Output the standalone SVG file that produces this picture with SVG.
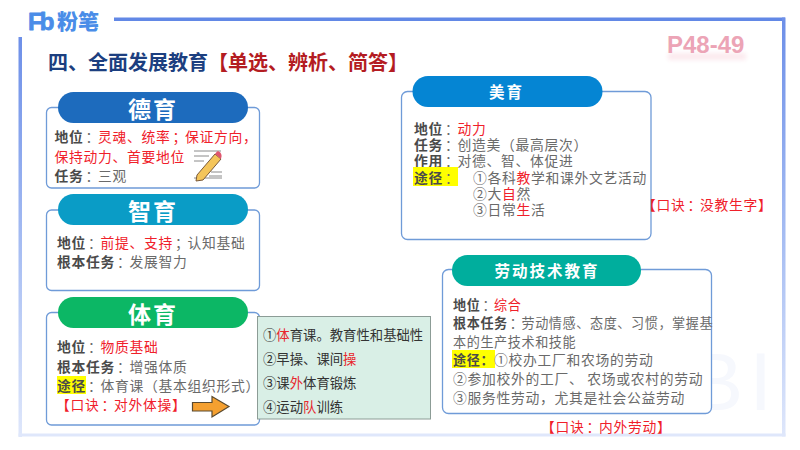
<svg xmlns="http://www.w3.org/2000/svg" width="800" height="450" viewBox="0 0 800 450">
<defs>
<linearGradient id="fv" x1="0" y1="0" x2="0" y2="1"><stop offset="0" stop-color="#6d8fe8"/><stop offset="0.55" stop-color="#a9bff3"/><stop offset="1" stop-color="#dfe7fb"/></linearGradient>
<filter id="soft" x="-20%" y="-50%" width="140%" height="200%"><feGaussianBlur stdDeviation="2"/></filter>
</defs>
<style>
text{font-family:"Noto Sans CJK SC","Noto Sans",sans-serif;font-size:13.8px;letter-spacing:.7px;fill:#6a6a6a}
.l{font-weight:700;fill:#4a4a4a}
.r{fill:#f0202a}
.box{fill:#fff;stroke:#6f9bd8;stroke-width:1.3}
.h{font-size:23px;font-weight:700;fill:#fff;text-anchor:middle;letter-spacing:2px}
.hs{font-size:15.5px;font-weight:700;fill:#fff;text-anchor:middle;letter-spacing:2px}
.hl{fill:#ffff00}
.g{font-size:13.35px;letter-spacing:0;fill:#333}
.gr{fill:#e8262c}
.n{font-size:13.1px;letter-spacing:.6px}
</style>
<rect width="800" height="450" fill="#fff"/>
<g id="frame">
<text x="778" y="410" text-anchor="end" style="font-family:'Liberation Sans',sans-serif;font-size:82px;letter-spacing:6px;font-weight:400;fill:#f6f8fd">FENBI</text>
<rect x="114" y="17.5" width="671" height="3.5" fill="#6288e6"/>
<rect x="18.5" y="37" width="3.500" height="400" fill="url(#fv)"/>
<rect x="782" y="17.500" width="3.500" height="419" fill="url(#fv)"/>
<rect x="18.500" y="433.500" width="767" height="3" fill="#dfe7fb"/>
</g>
<g id="logo">
<text x="28" y="30" style="font-family:'Liberation Sans',sans-serif;font-size:24px;letter-spacing:-3px;font-weight:700;fill:#4a8de8;stroke:#4a8de8;stroke-width:.8;stroke-linejoin:round">Fb</text>
<text x="57" y="29" style="font-size:21px;font-weight:900;letter-spacing:0;fill:#4a8de8">粉笔</text>
</g>
<g id="title">
<text x="48" y="69.500" style="font-size:20px;letter-spacing:0;font-weight:700;fill:#1c3f80">四、全面发展教育<tspan style="fill:#b41c22">【单选、辨析、简答】</tspan></text>
</g>
<g id="page">
<rect x="668" y="53" width="78" height="7" fill="#f4c2cf" opacity="0.35" filter="url(#soft)"/>
<text x="667" y="53" style="font-family:'Liberation Sans',sans-serif;font-size:24px;letter-spacing:0;font-weight:700;fill:#eca4b6">P48-49</text>
</g>
<g id="node-deyu">
<rect class="box" x="46.500" y="107.500" width="213" height="80.500" rx="5"/>
<rect x="58" y="92" width="190" height="31" rx="15.500" fill="#1d6bbd"/>
<text class="h" x="153" y="118">德育</text>
<text x="54.500" y="142"><tspan class="l">地位</tspan><tspan dx="2">：</tspan><tspan class="r" dx="-2">灵魂、统率</tspan><tspan class="r" dx="2">；</tspan><tspan class="r" dx="-2">保证方向，</tspan></text>
<text x="54.500" y="162" class="r">保持动力、首要地位</text>
<text x="54.500" y="181"><tspan class="l">任务</tspan><tspan dx="2">：</tspan><tspan dx="-2">三观</tspan></text>
<g id="pencil-icon">
<path d="M194 151h27M194 156h15M194 161h10M211 172h11M209 176h13M194 178h28" stroke="#8a8a8a" stroke-width="1" fill="none"/>
<path d="M197 175l18-21 6 5-18 21-7 1z" fill="#f4c55a" stroke="#7a5a3a" stroke-width="1"/>
<path d="M215 154l2-2.500c2-1 5 2 4.500 5l-.5 2.500z" fill="#e0566e"/>
</g>
</g>
<g id="node-zhiyu">
<rect class="box" x="46.500" y="210" width="213" height="80.500" rx="5"/>
<rect x="58" y="194" width="190" height="31" rx="15.500" fill="#0a9cc6"/>
<text class="h" x="153" y="220">智育</text>
<text x="57" y="248"><tspan class="l">地位</tspan><tspan dx="2">：</tspan><tspan class="r" dx="-2">前提、支持</tspan><tspan dx="2">；</tspan><tspan dx="-2">认知基础</tspan></text>
<text x="57" y="267"><tspan class="l">根本任务</tspan><tspan dx="2">：</tspan><tspan dx="-2">发展智力</tspan></text>
</g>
<g id="node-tiyu">
<rect class="box" x="46.500" y="312.500" width="213" height="112.500" rx="5"/>
<rect x="58" y="297" width="190" height="31" rx="15.500" fill="#0cb765"/>
<text class="h" x="153" y="323">体育</text>
<text x="57" y="352"><tspan class="l">地位</tspan><tspan dx="2">：</tspan><tspan class="r" dx="-2">物质基础</tspan></text>
<text x="57" y="372"><tspan class="l">根本任务</tspan><tspan dx="2">：</tspan><tspan dx="-2">增强体质</tspan></text>
<rect class="hl" x="57" y="376" width="29" height="18"/>
<text x="57" y="391"><tspan class="l">途径</tspan><tspan dx="2">：</tspan><tspan dx="-2">体育课（基本组织形式）</tspan></text>
<text x="56" y="410" class="r">【口诀<tspan dx="2">：</tspan><tspan dx="-2">对外体操】</tspan></text>
</g>
<g id="node-tiyu-list">
<rect x="257.500" y="316.500" width="173" height="102.500" fill="#d9efe6" stroke="#8c9c96" stroke-width="1"/>
<text class="g" x="263" y="340">①<tspan class="gr">体</tspan>育课。教育性和基础性</text>
<text class="g" x="263" y="364">②早操、课间<tspan class="gr">操</tspan></text>
<text class="g" x="263" y="388">③课<tspan class="gr">外</tspan>体育锻炼</text>
<text class="g" x="263" y="412">④运动<tspan class="gr">队</tspan>训练</text>
</g>
<g id="node-meiyu">
<rect class="box" x="401.500" y="91.500" width="249.500" height="148" rx="6"/>
<rect x="412.500" y="76" width="190" height="31" rx="15.500" fill="#0585d3"/>
<text class="hs" x="506.500" y="97.500">美育</text>
<text x="414" y="134"><tspan class="l">地位</tspan><tspan dx="2">：</tspan><tspan class="r" dx="-2">动力</tspan></text>
<text x="414" y="150"><tspan class="l">任务</tspan><tspan dx="2">：</tspan><tspan dx="-2">创造美（最高层次）</tspan></text>
<text x="414" y="166"><tspan class="l">作用</tspan><tspan dx="2">：</tspan><tspan dx="-2">对德、智、体促进</tspan></text>
<rect class="hl" x="413" y="167" width="45" height="19"/>
<text x="414" y="183"><tspan class="l">途径</tspan><tspan dx="2">：</tspan></text>
<text x="473" y="183">①各科<tspan class="r">教</tspan>学和课外文艺活动</text>
<text x="473" y="199">②大<tspan class="r">自</tspan>然</text>
<text x="473" y="214.500">③日常<tspan class="r">生</tspan>活</text>
<text x="642" y="210" class="r">【口诀<tspan dx="2">：</tspan><tspan dx="-2">没教生字】</tspan></text>
</g>
<g id="node-laodong">
<rect class="box" x="442.500" y="269.500" width="269" height="144" rx="6"/>
<rect x="452" y="255" width="189" height="31" rx="15.500" fill="#00ae9d"/>
<text class="hs" x="547" y="276.500">劳动技术教育</text>
<text class="n" x="453" y="310"><tspan class="l">地位</tspan><tspan dx="2">：</tspan><tspan class="r" dx="-2">综合</tspan></text>
<text class="n" x="453" y="328"><tspan class="l">根本任务</tspan><tspan dx="2">：</tspan><tspan dx="-2">劳动情感、态度、习惯，掌握基</tspan></text>
<text class="n" x="453" y="347">本的生产技术和技能</text>
<rect class="hl" x="452" y="350" width="43" height="18"/>
<text x="453" y="365"><tspan class="n l">途径：</tspan>①校办工厂和农场的劳动</text>
<text x="453" y="384">②参加校外的工厂、 农场或农村的劳动</text>
<text x="453" y="403">③服务性劳动，尤其是社会公益劳动</text>
<text x="541" y="432" class="r">【口诀<tspan dx="2">：</tspan><tspan dx="-2">内外劳动】</tspan></text>
</g>
<g id="connectors">
<path d="M192.500 402.500h19.500v-6l17 10-17 10.500v-6h-19.500z" fill="#f5a030" stroke="#5a4a30" stroke-width="1.200"/>
</g>
</svg>
